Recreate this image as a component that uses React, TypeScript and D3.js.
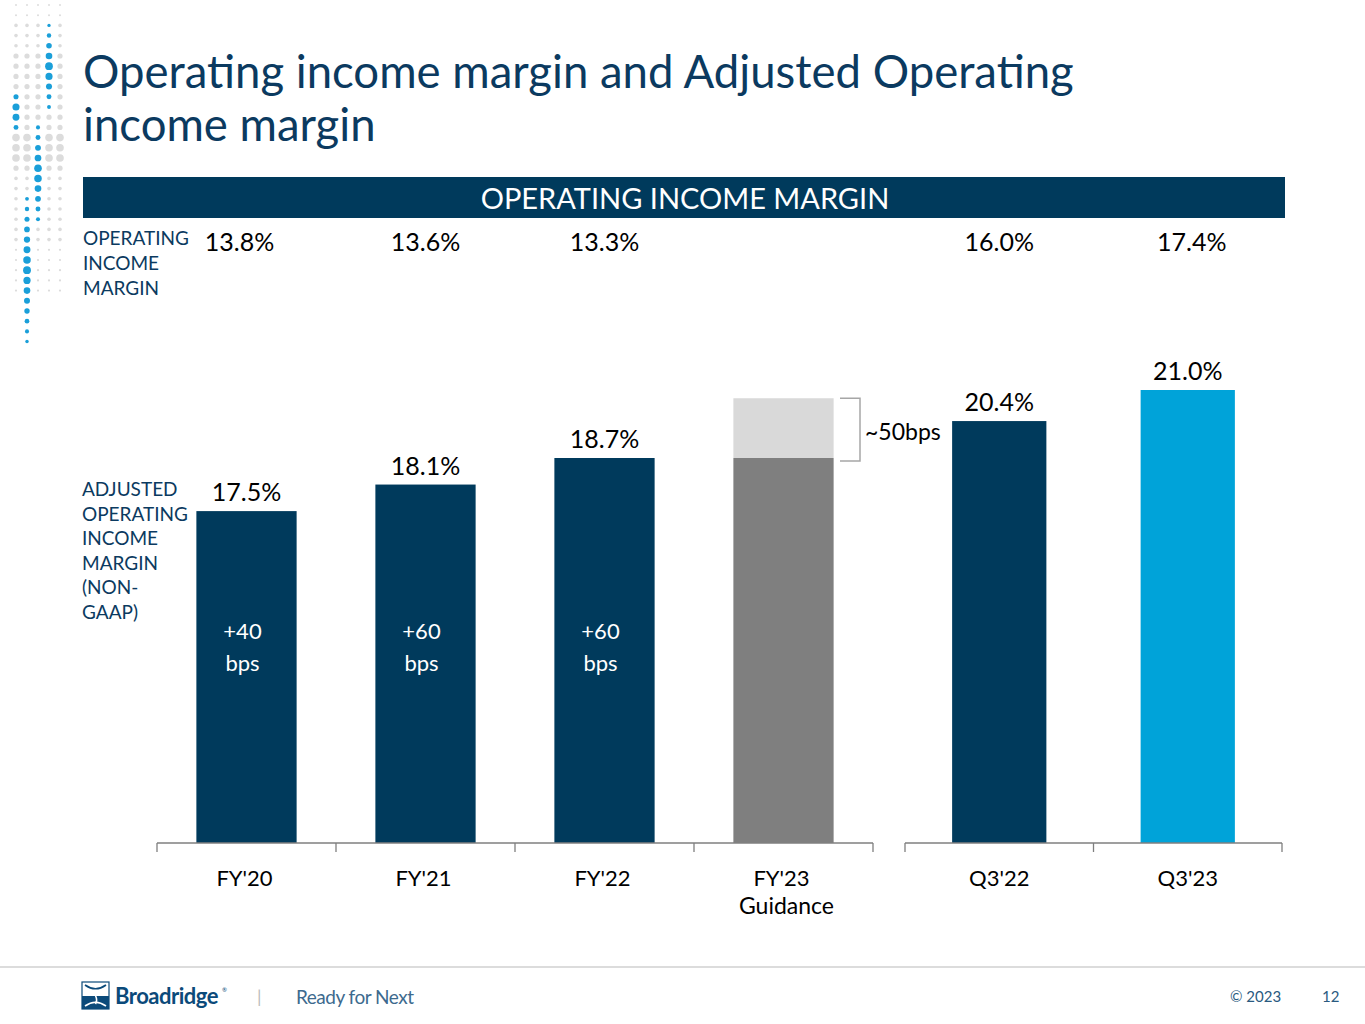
import React from "react";
import * as d3 from "d3";

const categoriesLeft = ["FY'20", "FY'21", "FY'22", "FY'23"];
const categoriesRight = ["Q3'22", "Q3'23"];
const adjMarginLeft = [17.5, 18.1, 18.7, 18.7];
const adjLabelsLeft = ["17.5%", "18.1%", "18.7%", ""];
const guidanceTop = 20.05;
const adjMarginRight = [20.4, 21.0];
const adjLabelsRight = ["20.4%", "21.0%"];
const opMarginLeft = ["13.8%", "13.6%", "13.3%", ""];
const opMarginRight = ["16.0%", "17.4%"];
const bpsLabels = ["+40", "+60", "+60", ""];

const FONT = "Lato, 'Open Sans', sans-serif";
const NAVY = "#003a5c";
const LIGHTBLUE = "#00a3d9";
const TEXTBLUE = "#0b3a60";

// decorative dot columns: x and blue run range
const dotCols = [
  { x: 16, blue: [88, 135] },
  { x: 27, blue: [190, 345] },
  { x: 38, blue: [118, 228] },
  { x: 49, blue: [25, 112] },
  { x: 60, blue: [-1, -1] },
];

export default function App() {
  const baseY = 843;
  const xLeft = d3.scaleBand<string>().domain(categoriesLeft).range([157, 873]).paddingInner(0.44).paddingOuter(0.22);
  const xRight = d3.scaleBand<string>().domain(categoriesRight).range([905, 1282]).paddingInner(0.5).paddingOuter(0.25);
  const yLeft = d3.scaleLinear().domain([10, 18.7]).range([baseY, 458]);
  const yRight = d3.scaleLinear().domain([12.25, 21.0]).range([baseY, 390]);

  const stepL = (873 - 157) / 4;
  const stepR = (1282 - 905) / 2;

  const dots: JSX.Element[] = [];
  dotCols.forEach((col, ci) => {
    for (let y = 5; y <= 345; y += 10.2) {
      const isBlue = y >= col.blue[0] && y <= col.blue[1];
      const mid = (col.blue[0] + col.blue[1]) / 2;
      let r: number;
      if (isBlue) {
        const t = 1 - Math.abs(y - mid) / ((col.blue[1] - col.blue[0]) / 2 + 1);
        r = 1.6 + 2.4 * t;
      } else {
        if (y > 300 && ci !== 1) continue;
        if (y < 20) r = 1;
        else if (y > 240) r = 1.1;
        else if (y > 50 && y < 170) r = 2.6 + (y > 130 && y < 160 ? 1.2 : 0);
        else r = 1.8;
      }
      dots.push(
        <circle key={`${ci}-${y}`} cx={col.x} cy={y} r={r} fill={isBlue ? "#1a9fd9" : "#dcdcdc"} />
      );
    }
  });

  return (
    <div style={{ position: "absolute", left: 0, top: 0 }}>
      <svg width={1365} height={1024} style={{ display: "block", fontFamily: FONT }}>
        <rect width={1365} height={1024} fill="#fff" />
        {dots}
        <text x={83} y={88} fontSize={45.5} fill={TEXTBLUE}>Operating income margin and Adjusted Operating</text>
        <text x={83} y={141} fontSize={45.5} fill={TEXTBLUE}>income margin</text>

        <rect x={83} y={177} width={1202} height={41} fill={NAVY} />
        <text x={685} y={209} fontSize={29} fill="#fff" textAnchor="middle">OPERATING INCOME MARGIN</text>

        {["OPERATING", "INCOME", "MARGIN"].map((t, i) => (
          <text key={t} x={83} y={245 + i * 25} fontSize={19} fill={TEXTBLUE}>{t}</text>
        ))}
        {["ADJUSTED", "OPERATING", "INCOME", "MARGIN", "(NON-", "GAAP)"].map((t, i) => (
          <text key={t} x={82} y={496 + i * 24.6} fontSize={19} fill={TEXTBLUE}>{t}</text>
        ))}

        {categoriesLeft.map((c, i) => (
          <text key={c} x={xLeft(c)! + xLeft.bandwidth() / 2 - (i === 0 ? 7 : 0)} y={251} fontSize={25} fill="#000" textAnchor="middle">{opMarginLeft[i]}</text>
        ))}
        {categoriesRight.map((c, i) => (
          <text key={c} x={xRight(c)! + xRight.bandwidth() / 2 + (i === 1 ? 4 : 0)} y={251} fontSize={25} fill="#000" textAnchor="middle">{opMarginRight[i]}</text>
        ))}

        {categoriesLeft.map((c, i) => {
          const x = xLeft(c)!;
          const w = xLeft.bandwidth();
          const y = yLeft(adjMarginLeft[i]);
          const isGuid = i === 3;
          return (
            <g key={c}>
              {isGuid && (
                <rect x={x} y={yLeft(guidanceTop)} width={w} height={y - yLeft(guidanceTop)} fill="#d9d9d9" />
              )}
              <rect x={x} y={y} width={w} height={baseY - y} fill={isGuid ? "#7f7f7f" : NAVY} />
              {adjLabelsLeft[i] && (
                <text x={x + w / 2} y={y - 10} fontSize={25} textAnchor="middle" fill="#000">{adjLabelsLeft[i]}</text>
              )}
              {bpsLabels[i] && (
                <>
                  <text x={x + w / 2 - 4} y={639} fontSize={22} textAnchor="middle" fill="#fff">{bpsLabels[i]}</text>
                  <text x={x + w / 2 - 4} y={671} fontSize={22} textAnchor="middle" fill="#fff">bps</text>
                </>
              )}
              <text x={x + w / 2 - 2} y={886} fontSize={22} textAnchor="middle" fill="#000">{c}</text>
              {isGuid && <text x={x + w / 2 + 3} y={914} fontSize={23} textAnchor="middle" fill="#000">Guidance</text>}
            </g>
          );
        })}

        {/* bracket */}
        <path
          d={`M840,${yLeft(guidanceTop)} H860 V${yLeft(adjMarginLeft[3]) + 3} H840`}
          fill="none"
          stroke="#a6a6a6"
          strokeWidth={1.5}
        />
        <text x={865} y={440} fontSize={23} fill="#000">~50bps</text>

        {categoriesRight.map((c, i) => {
          const x = xRight(c)!;
          const w = xRight.bandwidth();
          const y = yRight(adjMarginRight[i]);
          return (
            <g key={c}>
              <rect x={x} y={y} width={w} height={baseY - y} fill={i === 1 ? LIGHTBLUE : NAVY} />
              <text x={x + w / 2} y={y - 10} fontSize={25} textAnchor="middle" fill="#000">{adjLabelsRight[i]}</text>
              <text x={x + w / 2} y={886} fontSize={22} textAnchor="middle" fill="#000">{c}</text>
            </g>
          );
        })}

        {/* axes */}
        <line x1={157} x2={873} y1={baseY} y2={baseY} stroke="#7f7f7f" strokeWidth={1.3} />
        {d3.range(5).map((i) => (
          <line key={i} x1={157 + i * stepL} x2={157 + i * stepL} y1={baseY} y2={baseY + 9} stroke="#7f7f7f" strokeWidth={1.3} />
        ))}
        <line x1={905} x2={1282} y1={baseY} y2={baseY} stroke="#7f7f7f" strokeWidth={1.3} />
        {d3.range(3).map((i) => (
          <line key={i} x1={905 + i * stepR} x2={905 + i * stepR} y1={baseY} y2={baseY + 9} stroke="#7f7f7f" strokeWidth={1.3} />
        ))}

        {/* footer */}
        <line x1={0} x2={1365} y1={967} y2={967} stroke="#d0d0d0" strokeWidth={1.5} />
        <g transform="translate(82,982)">
          <rect x={0} y={0} width={27} height={27} fill="#fff" stroke="#0b4a7a" strokeWidth={1.2} />
          <rect x={0} y={14} width={27} height={13} fill="#0b4a7a" />
          <path d="M3,3 C10,8 17,8 24,3 M3,24 C10,19 17,19 24,24 M13.5,6 C9,12 18,15 13.5,22" fill="none" stroke="#fff" strokeWidth={1.6} />
          <path d="M3,3 C10,8 17,8 24,3" fill="none" stroke="#0b4a7a" strokeWidth={1.6} />
        </g>
        <text x={115} y={1004} fontSize={22} fontWeight={700} fill="#0b4a7a" letterSpacing={-0.5}>Broadridge</text>
        <text x={222} y={992} fontSize={6} fill="#0b4a7a">®</text>
        <text x={257} y={1003} fontSize={18} fill="#bbb">|</text>
        <text x={296} y={1004} fontSize={19} fill="#3d6a8e" letterSpacing={-0.5}>Ready for Next</text>
        <text x={1230} y={1002} fontSize={15} fill="#2a5a80">© 2023</text>
        <text x={1322} y={1002} fontSize={15} fill="#2a5a80">12</text>
      </svg>
    </div>
  );
}
